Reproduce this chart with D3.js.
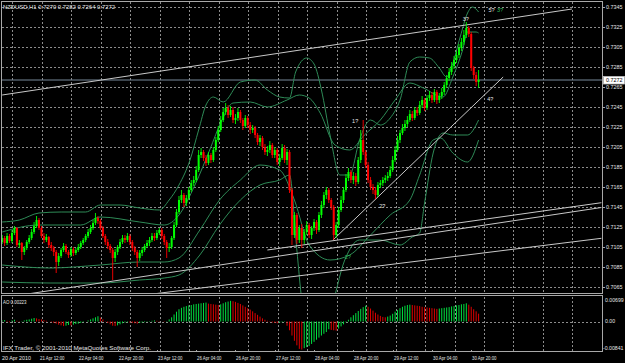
<!DOCTYPE html>
<html><head><meta charset="utf-8">
<script src="https://cdn.jsdelivr.net/npm/d3@7/dist/d3.min.js"></script>
<style>html,body{margin:0;padding:0;background:#000;overflow:hidden}</style>
</head><body>
<script>
// ---------- DATA ----------
const symbolTitle = "NZDUSD,H1";
const lastQuote = ["0.7270", "0.7282", "0.7264", "0.7272"];
const bidPrice = 0.7272;
const aoTitle = "AO 0.00223";
const copyright = "IFX Trader, \u00a9 2001-2010 MetaQuotes Software Corp.";

const opens = [.7110,.7114,.7109,.7116,.7111,.7119,.7124,.7107,.7109,.7100,
.7104,.7110,.7114,.7120,.7126,.7132,.7124,.7116,.7112,.7115,
.7107,.7104,.7100,.7090,.7096,.7102,.7106,.7100,.7097,.7103,
.7099,.7102,.7105,.7109,.7112,.7116,.7120,.7124,.7129,.7134,
.7131,.7124,.7116,.7110,.7106,.7102,.7094,.7100,.7105,.7110,
.7114,.7112,.7116,.7110,.7104,.7100,.7094,.7099,.7102,.7106,
.7109,.7112,.7116,.7114,.7119,.7122,.7116,.7110,.7104,.7105,
.7114,.7127,.7140,.7152,.7157,.7149,.7154,.7162,.7169,.7172,
.7182,.7197,.7200,.7194,.7189,.7197,.7192,.7202,.7212,.7222,
.7232,.7240,.7244,.7237,.7242,.7232,.7234,.7240,.7232,.7226,
.7234,.7227,.7222,.7224,.7217,.7210,.7214,.7205,.7200,.7202,
.7207,.7197,.7202,.7190,.7194,.7204,.7192,.7200,.7162,.7117,
.7137,.7112,.7124,.7112,.7120,.7127,.7117,.7124,.7130,.7122,
.7137,.7147,.7157,.7162,.7152,.7145,.7117,.7127,.7142,.7152,
.7162,.7174,.7180,.7172,.7176,.7170,.7192,.7212,.7200,.7187,
.7172,.7165,.7162,.7157,.7167,.7169,.7172,.7174,.7176,.7182,
.7192,.7202,.7212,.7219,.7224,.7228,.7232,.7238,.7234,.7242,
.7239,.7247,.7252,.7244,.7254,.7257,.7252,.7260,.7252,.7256,
.7260,.7267,.7274,.7280,.7286,.7292,.7297,.7304,.7310,.7317,
.7324,.7318,.7284,.7277,.7270];

const highs = [.7117,.7116,.7119,.7118,.7122,.7126,.7125,.7112,.7110,.7106,
.7112,.7117,.7123,.7130,.7136,.7134,.7126,.7119,.7118,.7116,
.7110,.7106,.7102,.7099,.7104,.7109,.7108,.7102,.7105,.7105,
.7104,.7108,.7111,.7114,.7118,.7123,.7127,.7132,.7139,.7136,
.7133,.7126,.7118,.7113,.7108,.7104,.7103,.7107,.7113,.7117,
.7117,.7119,.7118,.7112,.7106,.7102,.7102,.7105,.7108,.7112,
.7115,.7119,.7119,.7122,.7124,.7124,.7118,.7112,.7109,.7116,
.7130,.7143,.7156,.7162,.7159,.7157,.7165,.7172,.7176,.7186,
.7202,.7204,.7202,.7197,.7200,.7199,.7205,.7215,.7226,.7236,
.7244,.7249,.7247,.7246,.7245,.7238,.7244,.7242,.7234,.7237,
.7236,.7230,.7227,.7226,.7219,.7217,.7216,.7208,.7206,.7211,
.7209,.7205,.7204,.7198,.7208,.7207,.7203,.7202,.7164,.7140,
.7139,.7127,.7128,.7123,.7131,.7129,.7126,.7133,.7132,.7140,
.7151,.7160,.7165,.7164,.7154,.7147,.7130,.7145,.7156,.7165,
.7178,.7184,.7182,.7180,.7179,.7195,.7222,.7232,.7202,.7190,
.7175,.7168,.7165,.7170,.7172,.7175,.7177,.7180,.7186,.7196,
.7206,.7216,.7222,.7228,.7232,.7236,.7242,.7241,.7245,.7245,
.7251,.7256,.7254,.7257,.7261,.7260,.7263,.7262,.7259,.7264,
.7270,.7277,.7284,.7290,.7296,.7301,.7308,.7314,.7322,.7330,
.7326,.7320,.7286,.7280,.7282];

const lows = [.7108,.7106,.7107,.7109,.7109,.7117,.7105,.7104,.7092,.7097,
.7102,.7108,.7112,.7118,.7124,.7122,.7114,.7109,.7110,.7104,
.7101,.7096,.7079,.7086,.7094,.7100,.7098,.7094,.7095,.7096,
.7097,.7100,.7103,.7107,.7110,.7114,.7118,.7122,.7127,.7128,
.7122,.7114,.7107,.7103,.7099,.7072,.7090,.7097,.7103,.7108,
.7109,.7110,.7107,.7101,.7097,.7085,.7091,.7096,.7100,.7104,
.7106,.7110,.7111,.7112,.7117,.7113,.7107,.7094,.7100,.7103,
.7112,.7125,.7138,.7149,.7145,.7146,.7152,.7160,.7166,.7170,
.7180,.7194,.7191,.7186,.7187,.7189,.7190,.7200,.7210,.7220,
.7230,.7237,.7234,.7235,.7229,.7228,.7231,.7229,.7222,.7224,
.7224,.7218,.7219,.7214,.7207,.7206,.7202,.7197,.7196,.7199,
.7194,.7194,.7187,.7186,.7192,.7189,.7187,.7159,.7107,.7114,
.7108,.7109,.7104,.7108,.7117,.7114,.7113,.7121,.7118,.7120,
.7134,.7144,.7153,.7149,.7142,.7112,.7114,.7124,.7140,.7149,
.7160,.7171,.7169,.7168,.7166,.7168,.7189,.7197,.7184,.7169,
.7162,.7158,.7153,.7155,.7164,.7166,.7169,.7171,.7174,.7180,
.7190,.7200,.7209,.7217,.7221,.7225,.7230,.7231,.7232,.7236,
.7237,.7244,.7241,.7242,.7251,.7249,.7250,.7248,.7249,.7253,
.7257,.7264,.7271,.7277,.7283,.7289,.7294,.7301,.7307,.7314,
.7315,.7281,.7273,.7266,.7264];

const closes = [.7114,.7109,.7116,.7111,.7119,.7124,.7107,.7109,.7100,.7104,
.7110,.7114,.7120,.7126,.7132,.7124,.7116,.7112,.7115,.7107,
.7104,.7100,.7090,.7096,.7102,.7106,.7100,.7097,.7103,.7099,
.7102,.7105,.7109,.7112,.7116,.7120,.7124,.7129,.7134,.7131,
.7124,.7116,.7110,.7106,.7102,.7094,.7100,.7105,.7110,.7114,
.7112,.7116,.7110,.7104,.7100,.7094,.7099,.7102,.7106,.7109,
.7112,.7116,.7114,.7119,.7122,.7116,.7110,.7104,.7105,.7114,
.7127,.7140,.7152,.7157,.7149,.7154,.7162,.7169,.7172,.7182,
.7197,.7200,.7194,.7189,.7197,.7192,.7202,.7212,.7222,.7232,
.7240,.7244,.7237,.7242,.7232,.7234,.7240,.7232,.7226,.7234,
.7227,.7222,.7224,.7217,.7210,.7214,.7205,.7200,.7202,.7207,
.7197,.7202,.7190,.7194,.7204,.7192,.7200,.7162,.7117,.7137,
.7112,.7124,.7112,.7120,.7127,.7117,.7124,.7130,.7122,.7137,
.7147,.7157,.7162,.7152,.7145,.7117,.7127,.7142,.7152,.7162,
.7174,.7180,.7172,.7176,.7170,.7192,.7212,.7200,.7187,.7172,
.7165,.7162,.7157,.7167,.7169,.7172,.7174,.7176,.7182,.7192,
.7202,.7212,.7219,.7224,.7228,.7232,.7238,.7234,.7242,.7239,
.7247,.7252,.7244,.7254,.7257,.7252,.7260,.7252,.7256,.7260,
.7267,.7274,.7280,.7286,.7292,.7297,.7304,.7310,.7317,.7324,
.7318,.7284,.7277,.7270,.7272];

// Awesome Oscillator histogram, one value per bar
const aoValues = [.0003,.0004,.0002,-.0002,.0003,.0005,.0002,-.0001,
.0001,.0003,.0005,.0006,.0008,.0010,.0009,.0007,.0006,
.0004,.0002,.0000,-.0002,-.0004,-.0006,
-.0009,-.0011,-.0013,-.0012,-.0010,-.0011,-.0009,-.0007,-.0006,
-.0004,-.0002,.0000,.0003,.0006,.0009,.0012,.0015,.0011,
.0006,.0001,-.0004,-.0008,-.0012,-.0013,-.0011,-.0008,
-.0005,-.0003,-.0002,-.0003,-.0004,-.0005,-.0006,-.0004,-.0003,-.0002,-.0001,.0001,.0002,.0003,.0002,.0001,.0000,-.0001,.0001,
.0006,.0012,.0020,.0028,.0035,
.0039,.0042,.0044,.0046,.0047,.0049,.0050,.0051,.0052,.0053,.0054,
.0051,.0050,.0049,.0048,.0047,
.0049,.0052,.0055,.0057,.0059,
.0058,.0056,.0053,.0050,.0046,.0042,.0038,.0034,.0029,.0024,.0019,.0014,.0009,.0005,
.0002,-.0001,-.0003,-.0004,-.0005,-.0003,-.0002,-.0001,
-.0012,-.0025,-.0040,-.0055,-.0068,-.0078,
-.0080,-.0076,-.0073,
-.0070,-.0064,-.0058,-.0052,-.0046,-.0040,-.0035,-.0030,
-.0022,-.0024,-.0025,-.0026,
-.0020,-.0014,-.0008,-.0002,
.0005,.0012,.0018,.0024,.0030,.0036,.0041,.0045,
.0042,.0037,.0031,.0025,.0020,.0016,.0013,.0012,
.0014,.0017,.0022,.0028,
.0033,.0038,.0042,.0045,.0047,.0048,
.0047,.0046,.0045,.0044,.0042,.0041,.0040,.0039,.0038,.0037,.0036,
.0037,.0038,.0039,.0040,.0041,.0043,.0044,.0046,.0047,.0049,.0050,.0052,
.0048,.0042,.0035,.0029,.00223];

// Envelope / band curves: [bar, price]
const bandOuterUpper = [[0,.7130],[7,.7132],[15,.7139],[24,.7140],[34,.7140],[40,.7147],[48,.7147],[56,.7144],[64,.7142],[68,.7152],[72,.7167],[76.5,.7192],[80,.7222],[83,.7247],[86,.7255],[90,.7250],[97,.7270],[103,.7272],[108,.7262],[113,.7255],[117,.7254],[119.5,.7280],[124,.7294],[127,.7288],[130,.7262],[133.5,.7217],[137.5,.7177],[141.5,.7177],[145.5,.7212],[150,.7232],[154,.7227],[158,.7234],[162,.7252],[166,.7290],[170,.7295],[174,.7294],[178,.7284],[181,.7275],[183,.7285],[186.5,.7315],[189.5,.7339],[191.5,.7345],[194,.7340]];
const bandInnerUpper = [[0,.7120],[15,.7127],[32,.7127],[40,.7135],[56,.7130],[66,.7127],[72,.7137],[78.5,.7167],[84.5,.7202],[89.5,.7232],[94,.7249],[101,.7250],[108,.7245],[116,.7252],[121,.7257],[125,.7254],[129.5,.7239],[135.5,.7207],[141.5,.7202],[147.5,.7217],[154,.7232],[160,.7252],[166,.7269],[171.5,.7264],[179.5,.7255],[183.5,.7275],[187.5,.7302],[189.5,.7320],[193,.7320],[194,.7319]];
const bandInnerLower = [[0,.7087],[19.5,.7084],[40,.7087],[56,.7090],[66,.7090],[72,.7094],[80.5,.7122],[88.5,.7152],[97,.7172],[105,.7187],[113,.7182],[119,.7152],[125,.7107],[133.5,.7092],[141.5,.7097],[150,.7117],[158,.7137],[166,.7152],[170,.7177],[175.5,.7212],[178.5,.7214],[183.5,.7199],[189.5,.7190],[194,.7212]];
const bandOuterLower = [[0,.7070],[19.5,.7069],[40,.7069],[56,.7072],[66,.7074],[72,.7077],[80.5,.7097],[88.5,.7127],[97,.7152],[105,.7167],[113,.7172],[117,.7177],[120,.7102],[122,.7052],[125,.7022],[133.5,.7042],[139.5,.7092],[145.5,.7112],[154,.7112],[162,.7107],[167,.7115],[170,.7119],[172,.7149],[175.5,.7199],[179.5,.7219],[183.5,.7217],[189.5,.7217],[194,.7232]];

// Hand-drawn trend lines: [bar, price] endpoints
const trendLines = [
  [[0, .7257], [232, .7343]],      // upper channel
  [[108, .7102], [244, .71493]],   // lower channel 1
  [[0, .70542], [244, .71445]],    // lower channel 2
  [[0, .70393], [244, .71137]],    // lower channel 3
  [[134.7, .7112], [204, .7275]]   // rising support
];

// Wave labels: [bar, price, text, colour-key]
const waveLabels = [
  [142.5, .7230, "1?", "w"],
  [153.5, .7145, "2?", "w"],
  [139.5, .7094, "2?", "g"],
  [187.5, .7332, "3?", "w"],
  [198, .7341, "5?", "w"],
  [201.5, .7341, "3?", "g"],
  [197.5, .7252, "4?", "w"]
];

const priceTicks = [0.7345,0.7325,0.7305,0.7285,0.7265,0.7245,0.7225,0.7205,0.7185,0.7165,0.7145,0.7125,0.7105,0.7085,0.7065];
const aoTicks = [["0.00699", 0.00699], ["0.00", 0], ["-0.00841", -0.00841]];
const timeLabelBars = [0,15,31,47,63,79,95,111,127,143,159,175,191];
const timeLabels = ["20 Apr 2010","21 Apr 12:00","22 Apr 04:00","22 Apr 20:00","23 Apr 12:00","26 Apr 04:00","26 Apr 20:00","27 Apr 12:00","28 Apr 04:00","28 Apr 20:00","29 Apr 12:00","30 Apr 04:00","30 Apr 20:00"];

// ---------- LAYOUT ----------
const W = 625, H = 363;
const plotL = 2, plotR = 603, mainT = 2, mainB = 294, aoT = 297, aoB = 352;
const x = d3.scaleLinear().domain([0, 194]).range([2.16, 478.6]);
const y = d3.scaleLinear().domain([0.7065, 0.7345]).range([287, 7]);
const ya = d3.scaleLinear().domain([-0.00841, 0.00699]).range([351, 297]);

const FONT = "'Liberation Sans', Arial, sans-serif";
const TXT = "#e6e6e6";

const svg = d3.select("body").append("svg")
  .attr("width", W).attr("height", H).style("display", "block").style("background", "#000");

const defs = svg.append("defs");
defs.append("clipPath").attr("id", "clipMain").append("rect")
  .attr("x", plotL).attr("y", mainT).attr("width", plotR - plotL).attr("height", mainB - mainT);
defs.append("clipPath").attr("id", "clipAO").append("rect")
  .attr("x", plotL).attr("y", aoT).attr("width", plotR - plotL).attr("height", aoB - aoT);

// ---------- GRID ----------
const grid = svg.append("g").attr("stroke", "#8c8c8c").attr("stroke-width", 1)
  .attr("stroke-dasharray", "2,2").attr("shape-rendering", "crispEdges");
priceTicks.forEach(p => {
  const yy = Math.round(y(p)) + 0.5;
  grid.append("line").attr("x1", plotL).attr("x2", plotR).attr("y1", yy).attr("y2", yy);
});
const gridBars = d3.range(172.2 - 12 * 15, 250, 12).filter(b => x(b) > plotL + 3 && x(b) < plotR - 2);
gridBars.forEach(b => {
  const xx = Math.round(x(b)) + 0.5;
  grid.append("line").attr("x1", xx).attr("x2", xx).attr("y1", mainT).attr("y2", mainB);
  grid.append("line").attr("x1", xx).attr("x2", xx).attr("y1", aoT).attr("y2", aoB);
});
grid.append("line").attr("x1", plotL).attr("x2", plotR)
  .attr("y1", Math.round(ya(0)) + 0.5).attr("y2", Math.round(ya(0)) + 0.5);

// ---------- MAIN PANEL ----------
const main = svg.append("g").attr("clip-path", "url(#clipMain)");

// bid line
main.append("line").attr("x1", plotL).attr("x2", plotR)
  .attr("y1", y(bidPrice)).attr("y2", y(bidPrice)).attr("stroke", "#778899").attr("stroke-width", 1);

// bands
const bandLine = d3.line().x(d => x(d[0])).y(d => y(d[1])).curve(d3.curveMonotoneX);
[bandOuterUpper, bandInnerUpper, bandInnerLower, bandOuterLower].forEach(b => {
  main.append("path").attr("d", bandLine(b)).attr("fill", "none")
    .attr("stroke", "#2e8b57").attr("stroke-width", 1);
});

// trend lines
trendLines.forEach(t => {
  main.append("line").attr("x1", x(t[0][0])).attr("y1", y(t[0][1]))
    .attr("x2", x(t[1][0])).attr("y2", y(t[1][1]))
    .attr("stroke", "#c8c8c8").attr("stroke-width", 1);
});

// candles
const bars = d3.range(closes.length).map(i => ({i, o: opens[i], h: highs[i], l: lows[i], c: closes[i]}));
const cg = main.append("g");
bars.forEach(d => {
  const col = d.c >= d.o ? "#00ff00" : "#ff0000";
  const cx = x(d.i);
  cg.append("line").attr("x1", cx).attr("x2", cx).attr("y1", y(d.h)).attr("y2", y(d.l))
    .attr("stroke", col).attr("stroke-width", 0.9);
  const top = y(Math.max(d.o, d.c)), bot = y(Math.min(d.o, d.c));
  cg.append("rect").attr("x", cx - 1).attr("width", 2)
    .attr("y", top).attr("height", Math.max(1, bot - top)).attr("fill", col);
});

// wave labels
waveLabels.forEach(w => {
  main.append("text").attr("x", x(w[0])).attr("y", y(w[1]))
    .attr("font-family", FONT).attr("font-size", 5.5).attr("fill", w[3] === "g" ? "#2ebd5a" : TXT)
    .attr("dominant-baseline", "middle").text(w[2]);
});

// ---------- AO PANEL ----------
const ao = svg.append("g").attr("clip-path", "url(#clipAO)");
aoValues.forEach((v, i) => {
  const up = i === 0 || v >= aoValues[i - 1];
  ao.append("line").attr("x1", x(i)).attr("x2", x(i)).attr("y1", ya(0)).attr("y2", ya(v))
    .attr("stroke", up ? "#00e040" : "#e00000").attr("stroke-width", 1);
});

// ---------- BORDERS ----------
const bc = "#a8a8a8";
const border = svg.append("g").attr("stroke", bc).attr("stroke-width", 1).attr("shape-rendering", "crispEdges").attr("fill", "none");
border.append("rect").attr("x", plotL - 0.5).attr("y", mainT - 0.5).attr("width", plotR - plotL).attr("height", mainB - mainT);
border.append("rect").attr("x", plotL - 0.5).attr("y", aoT - 1.5).attr("width", plotR - plotL).attr("height", aoB - aoT + 1);
border.append("line").attr("x1", plotL).attr("x2", plotR).attr("y1", mainB + 1.5).attr("y2", mainB + 1.5);

// price axis labels + ticks
const axisG = svg.append("g");
priceTicks.forEach(p => {
  const yy = Math.round(y(p)) + 0.5;
  axisG.append("line").attr("x1", plotR).attr("x2", plotR + 2).attr("y1", yy).attr("y2", yy)
    .attr("stroke", bc).attr("shape-rendering", "crispEdges");
  axisG.append("text").attr("x", 606).attr("y", yy).attr("dominant-baseline", "middle")
    .attr("font-family", FONT).attr("font-size", 5.4).attr("fill", TXT).text(p.toFixed(4));
});

// bid price box
const by = Math.round(y(bidPrice));
axisG.append("rect").attr("x", plotR + 0.5).attr("y", by - 3.5).attr("width", 21).attr("height", 7.5)
  .attr("fill", "#ffffff").attr("stroke", "#c0c0c0").attr("stroke-width", 0.8);
axisG.append("text").attr("x", 606).attr("y", by + 0.5).attr("dominant-baseline", "middle")
  .attr("font-family", FONT).attr("font-size", 5.4).attr("fill", "#000").text(bidPrice.toFixed(4));

// AO axis labels
aoTicks.forEach(t => {
  const yy = t[1] === 0.00699 ? 300.5 : (t[1] === 0 ? ya(0) + 0.5 : 349);
  axisG.append("text").attr("x", t[1] < 0 ? 603 : 605).attr("y", yy).attr("dominant-baseline", "middle")
    .attr("font-family", FONT).attr("font-size", 5.2).attr("fill", TXT).text(t[0]);
});

// time axis
timeLabelBars.forEach((b, k) => {
  const xx = Math.round(x(b)) + 0.5;
  if (k > 0) axisG.append("line").attr("x1", xx).attr("x2", xx).attr("y1", aoB - 2).attr("y2", aoB)
    .attr("stroke", bc).attr("shape-rendering", "crispEdges");
  axisG.append("text").attr("x", k === 0 ? 2 : xx + 0.5).attr("y", 360)
    .attr("font-family", FONT).attr("font-size", 5).attr("fill", TXT)
    .attr("textLength", k === 0 ? 29 : 24.5).attr("lengthAdjust", "spacingAndGlyphs")
    .text(timeLabels[k]);
});

// titles
svg.append("text").attr("x", 3).attr("y", 8.8).attr("font-family", FONT).attr("font-size", 5.4)
  .attr("fill", TXT).attr("textLength", 112).attr("lengthAdjust", "spacingAndGlyphs")
  .text(symbolTitle + "  " + lastQuote.join(" "));
svg.append("text").attr("x", 3).attr("y", 303.5).attr("font-family", FONT).attr("font-size", 5.2)
  .attr("fill", TXT).attr("textLength", 23.5).attr("lengthAdjust", "spacingAndGlyphs").text(aoTitle);
svg.append("text").attr("x", 3).attr("y", 349.5).attr("font-family", FONT).attr("font-size", 5.2)
  .attr("fill", TXT).attr("textLength", 148).attr("lengthAdjust", "spacingAndGlyphs").text(copyright);
</script>
</body></html>
